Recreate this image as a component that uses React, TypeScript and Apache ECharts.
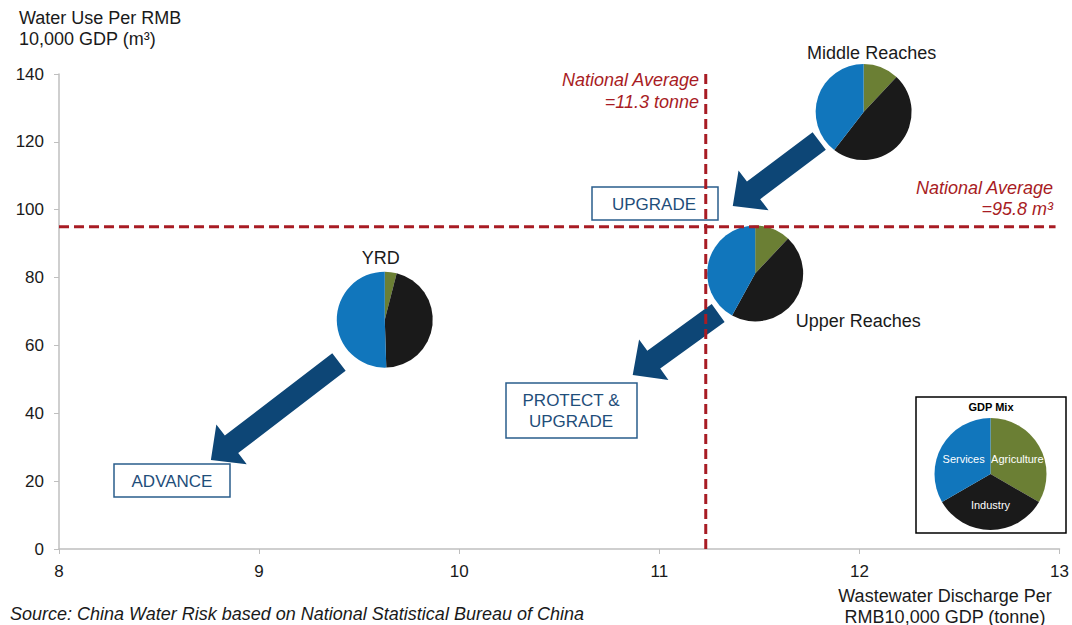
import React, { useEffect, useRef } from "react";
import * as echarts from "echarts";

// ---- data ----
const regions = ["YRD", "Upper Reaches", "Middle Reaches"];
const wastewater = [9.628, 11.479, 12.021]; // tonne per RMB10,000 GDP
const waterUse = [67.6, 81.2, 128.8]; // m3 per RMB10,000 GDP
const agriculture = [4, 12, 12];
const industry = [45.5, 46, 48.5];
const services = [50.5, 42, 39.5];

const nationalWastewater = 11.232; // drawn position of 11.3 line
const nationalWaterUse = 95; // drawn position of 95.8 line

const arrowFrom = [
  [11.799, 120.25],
  [11.294, 69.55],
  [9.399, 55.1],
];
const arrowTo = [
  [11.367, 101.1],
  [10.867, 51.3],
  [8.759, 26.2],
];

const xMin = 8, xMax = 13, xStep = 1;
const yMin = 0, yMax = 140, yStep = 20;

const legendNames = ["Agriculture", "Industry", "Services"];

// ---- styles ----
const FONT = '"Liberation Sans", Arial, Helvetica, sans-serif';
const C_AG = "#6B7F34";
const C_IND = "#1A1A1A";
const C_SERV = "#1176BC";
const C_ARROW = "#0D4676";
const C_RED = "#A81C24";
const C_BOX = "#2A5D8C";
const C_BOXTXT = "#1F4E7A";

const labelOffsets = [
  [-4, -62],
  [103, 47],
  [8, -59],
];

export default function App() {
  const ref = useRef<HTMLDivElement>(null);
  useEffect(() => {
    if (!ref.current) return;
    const chart = echarts.init(ref.current, null, { renderer: "svg" });

    const pieData = regions.map((r, i) => [
      wastewater[i],
      waterUse[i],
      agriculture[i],
      industry[i],
      services[i],
      i,
    ]);
    const arrowData = arrowFrom.map((f, i) => [f[0], f[1], arrowTo[i][0], arrowTo[i][1]]);

    const R = 48;

    const option: any = {
      animation: false,
      grid: { left: 59, right: 12, top: 74, bottom: 76, containLabel: false },
      xAxis: {
        type: "value",
        min: xMin,
        max: xMax,
        interval: xStep,
        axisLine: { show: true, lineStyle: { color: "#BFBFBF", width: 1.5 } },
        axisTick: { show: true, length: 5, lineStyle: { color: "#BFBFBF" } },
        splitLine: { show: false },
        axisLabel: { color: "#1a1a1a", fontSize: 17, fontFamily: FONT, margin: 14 },
      },
      yAxis: {
        type: "value",
        min: yMin,
        max: yMax,
        interval: yStep,
        axisLine: { show: true, lineStyle: { color: "#BFBFBF", width: 1.5 } },
        axisTick: { show: true, length: 5, lineStyle: { color: "#BFBFBF" } },
        splitLine: { show: false },
        axisLabel: { color: "#1a1a1a", fontSize: 17, fontFamily: FONT, margin: 15 },
      },
      graphic: [
        {
          type: "text",
          left: 19,
          top: 7,
          style: {
            text: "Water Use Per RMB\n10,000 GDP (m³)",
            font: `18px ${FONT}`,
            fill: "#1a1a1a",
            lineHeight: 21,
          },
        },
        {
          type: "text",
          x: 945,
          y: 585,
          style: {
            text: "Wastewater Discharge Per\nRMB10,000 GDP (tonne)",
            font: `18px ${FONT}`,
            fill: "#1a1a1a",
            align: "center",
            verticalAlign: "top",
            lineHeight: 21,
          },
        },
        {
          type: "text",
          x: 10,
          y: 605,
          style: {
            text: "Source: China Water Risk based on National Statistical Bureau of China",
            font: `italic 18px ${FONT}`,
            fill: "#1a1a1a",
            verticalAlign: "top",
          },
        },
        {
          type: "text",
          x: 699,
          y: 69,
          z: 10,
          style: {
            text: "National Average\n=11.3 tonne",
            font: `italic 18px ${FONT}`,
            fill: C_RED,
            align: "right",
            verticalAlign: "top",
            lineHeight: 22,
          },
        },
        {
          type: "text",
          x: 1053,
          y: 177,
          z: 10,
          style: {
            text: "National Average\n=95.8 m³",
            font: `italic 18px ${FONT}`,
            fill: C_RED,
            align: "right",
            verticalAlign: "top",
            lineHeight: 21,
          },
        },
        // action boxes
        {
          type: "group",
          children: [
            { type: "rect", shape: { x: 592, y: 187, width: 126, height: 33 }, style: { fill: "#fff", stroke: C_BOX, lineWidth: 1.5 } },
            { type: "text", x: 654, y: 204, style: { text: "UPGRADE", font: `17px ${FONT}`, fill: C_BOXTXT, align: "center", verticalAlign: "middle" } },
            { type: "rect", shape: { x: 506, y: 383, width: 131, height: 55 }, style: { fill: "#fff", stroke: C_BOX, lineWidth: 1.5 } },
            { type: "text", x: 571, y: 411, style: { text: "PROTECT &\nUPGRADE", font: `17px ${FONT}`, fill: C_BOXTXT, align: "center", verticalAlign: "middle", lineHeight: 21 } },
            { type: "rect", shape: { x: 114, y: 464, width: 116, height: 33 }, style: { fill: "#fff", stroke: C_BOX, lineWidth: 1.5 } },
            { type: "text", x: 172, y: 481, style: { text: "ADVANCE", font: `17px ${FONT}`, fill: C_BOXTXT, align: "center", verticalAlign: "middle" } },
          ],
        },
        // legend box
        {
          type: "group",
          children: [
            { type: "rect", shape: { x: 916, y: 397, width: 150, height: 136 }, style: { fill: "#fff", stroke: "#000", lineWidth: 1.5 } },
            { type: "text", x: 991, y: 407, style: { text: "GDP Mix", font: `bold 11px ${FONT}`, fill: "#000", align: "center", verticalAlign: "middle" } },
          ],
        },
      ],
      series: [
        {
          type: "custom",
          name: "arrows",
          z: 2,
          encode: { x: [0, 2], y: [1, 3] },
          data: arrowData,
          renderItem: (params: any, api: any) => {
            const p1 = api.coord([api.value(0), api.value(1)]);
            const p2 = api.coord([api.value(2), api.value(3)]);
            const dx = p2[0] - p1[0];
            const dy = p2[1] - p1[1];
            const len = Math.sqrt(dx * dx + dy * dy);
            const ux = dx / len, uy = dy / len;
            const nx = -uy, ny = ux;
            const sw = 11, hw = 25, hl = 26;
            const bx = p2[0] - ux * hl, by = p2[1] - uy * hl;
            const pts = [
              [p1[0] + nx * sw, p1[1] + ny * sw],
              [bx + nx * sw, by + ny * sw],
              [bx + nx * hw, by + ny * hw],
              [p2[0], p2[1]],
              [bx - nx * hw, by - ny * hw],
              [bx - nx * sw, by - ny * sw],
              [p1[0] - nx * sw, p1[1] - ny * sw],
            ];
            return { type: "polygon", shape: { points: pts }, style: { fill: C_ARROW } };
          },
        },
        {
          type: "custom",
          name: "regions",
          z: 3,
          encode: { x: 0, y: 1 },
          data: pieData,
          renderItem: (params: any, api: any) => {
            const c = api.coord([api.value(0), api.value(1)]);
            const vals = [api.value(2), api.value(3), api.value(4)];
            const cols = [C_AG, C_IND, C_SERV];
            const tot = vals[0] + vals[1] + vals[2];
            let a = -Math.PI / 2;
            const children: any[] = [];
            vals.forEach((v, k) => {
              const e = a + (2 * Math.PI * v) / tot;
              children.push({
                type: "sector",
                shape: { cx: c[0], cy: c[1], r: R, r0: 0, startAngle: a, endAngle: e, clockwise: true },
                style: { fill: cols[k] },
              });
              a = e;
            });
            const idx = api.value(5);
            const off = labelOffsets[idx];
            children.push({
              type: "text",
              x: c[0] + off[0],
              y: c[1] + off[1],
              style: { text: regions[idx], font: `18px ${FONT}`, fill: "#1a1a1a", align: "center", verticalAlign: "middle" },
            });
            return { type: "group", children };
          },
        },
        {
          type: "line",
          name: "nat-wastewater",
          z: 4,
          clip: false,
          symbol: "none",
          lineStyle: { color: C_RED, width: 3, type: [10, 5] },
          data: [
            [nationalWastewater, yMin],
            [nationalWastewater, 141.5],
          ],
        },
        {
          type: "line",
          name: "nat-wateruse",
          z: 4,
          clip: false,
          symbol: "none",
          lineStyle: { color: C_RED, width: 3, type: [10, 5] },
          data: [
            [xMin, nationalWaterUse],
            [12.98, nationalWaterUse],
          ],
        },
        {
          type: "pie",
          name: "GDP Mix",
          z: 5,
          center: [990.5, 474],
          radius: 56,
          startAngle: 90,
          clockwise: true,
          silent: true,
          label: {
            show: true,
            position: "inner",
            color: "#fff",
            fontSize: 11,
            fontFamily: FONT,
            formatter: "{b}",
          },
          labelLine: { show: false },
          data: legendNames.map((n, i) => ({
            name: n,
            value: 1,
            itemStyle: { color: [C_AG, C_IND, C_SERV][i] },
          })),
        },
      ],
    };
    chart.setOption(option);
    return () => chart.dispose();
  }, []);
  return (
    <div
      ref={ref}
      style={{ position: "absolute", left: 0, top: 0, width: 1072, height: 625, background: "#fff" }}
    />
  );
}
